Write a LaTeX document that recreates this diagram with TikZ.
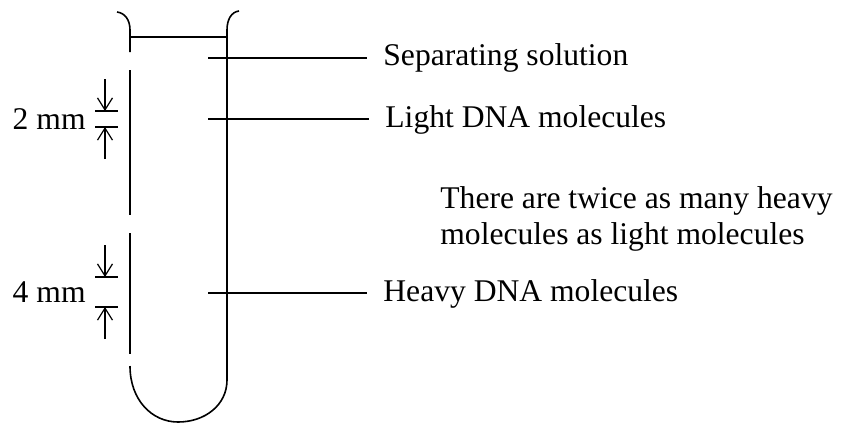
\documentclass[tikz,border=0pt]{standalone}
\usepackage{fontspec}
\setmainfont{Liberation Serif}
\usetikzlibrary{arrows.meta, positioning}

\begin{document}
\begin{tikzpicture}[x=0.5pt, y=-0.5pt,
  wall/.style={line width=0.8pt},
  leader/.style={line width=0.6pt},
  lbl/.style={font=\fontsize{15.8}{18}\selectfont, inner sep=0pt, anchor=base west},
  dimtip/.style={line width=0.6pt, -{Straight Barb[length=6pt, width=7.5pt]}},
]
  \def\L{130} % left wall
  \def\R{227} % right wall
  \useasboundingbox (0,0) rectangle (850,424);

  % --- tube ---
  \draw[wall] (117,12) .. controls (125,13) and (\L,20) .. (\L,30) -- (\L,52);
  \draw[wall] (\L,70) -- (\L,215);
  \draw[wall] (\L,233) -- (\L,354);
  \draw[wall] (\L,366) .. controls (\L,400) and (152,422) .. (178,422)
    .. controls (205,422) and (\R,405) .. (\R,380) -- (\R,30)
    .. controls (\R,20) and (231,12) .. (239,11);
  \draw[leader] (\L,37) -- (\R,37); % meniscus

  % --- bands and their labels ---
  \coordinate (sep) at (208,58);
  \coordinate (light) at (208,119);
  \coordinate (heavy) at (208,293);
  \node[lbl] (lsep) at (383,65) {Separating solution};
  \node[lbl] (llight) at (385,127) {Light DNA molecules};
  \node[lbl] (lheavy) at (383,301) {Heavy DNA molecules};
  \foreach \band/\lab in {sep/lsep, light/llight, heavy/lheavy}
    \draw[leader] (\band) -- ([xshift=-8pt]\band -| \lab.west);

  \node[lbl, anchor=west, align=left] (note) at (440,219)
    {There are twice as many heavy\\molecules as light molecules};

  % --- band widths ---
  \foreach \a/\b/\txt/\n in {111/127/2 mm/two, 277/307/4 mm/four} {
    \draw[leader] (95,\a) -- (118,\a);
    \draw[leader] (95,\b) -- (118,\b);
    \draw[dimtip] (105,\a-32) -- (105,\a);
    \draw[dimtip] (105,\b+32) -- (105,\b);
    \node[lbl, anchor=east] (dim\n) at (86,{(\a+\b)/2}) {\txt};
  }
\end{tikzpicture}
\end{document}
